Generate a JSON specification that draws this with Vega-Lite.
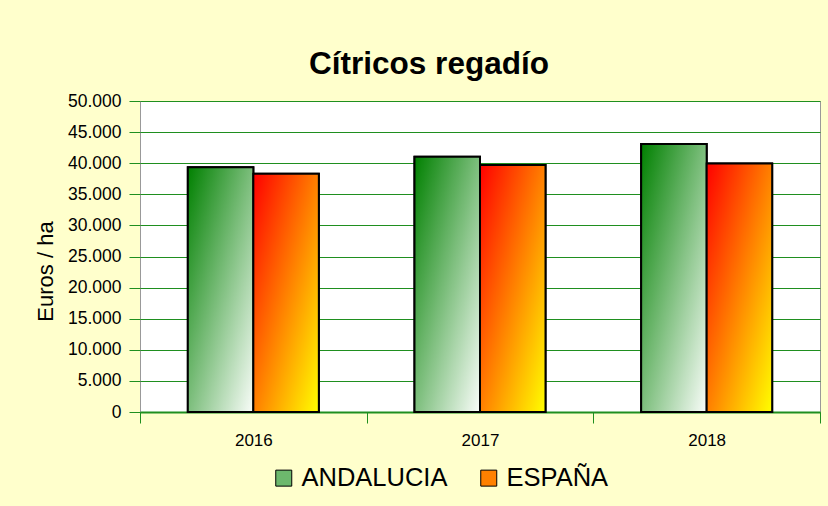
{
  "$schema": "https://vega.github.io/schema/vega-lite/v6.json",
  "width": 680,
  "height": 311,
  "autosize": {"type": "none"},
  "padding": {"left": 140, "top": 101, "right": 8, "bottom": 94},
  "background": "#FFFFCC",
  "title": {
    "text": "Cítricos regadío",
    "font": "Liberation Sans",
    "fontSize": 31.5,
    "fontWeight": "bold",
    "color": "#000000",
    "anchor": "middle",
    "frame": "group",
    "dx": -51,
    "baseline": "alphabetic",
    "offset": -13
  },
  "data": {
    "values": [
      {"year": "2016", "region": "ANDALUCIA", "value": 39350},
      {"year": "2016", "region": "ESPAÑA", "value": 38300},
      {"year": "2017", "region": "ANDALUCIA", "value": 41050},
      {"year": "2017", "region": "ESPAÑA", "value": 39700},
      {"year": "2018", "region": "ANDALUCIA", "value": 43100},
      {"year": "2018", "region": "ESPAÑA", "value": 39950}
    ]
  },
  "encoding": {
    "x": {
      "field": "year",
      "type": "nominal",
      "scale": {"paddingInner": 0, "paddingOuter": 0},
      "axis": {
        "title": null,
        "labelAngle": 0,
        "labelFont": "Liberation Sans",
        "labelFontSize": 17,
        "labelColor": "#000000",
        "labelPadding": 9,
        "tickBand": "extent",
        "tickSize": 11,
        "tickColor": "#1f8f1f",
        "tickWidth": 1,
        "domainColor": "#1f8f1f",
        "domainWidth": 2,
        "grid": false
      }
    },
    "xOffset": {"field": "region", "type": "nominal", "scale": {"paddingInner": 0, "paddingOuter": 0.73}},
    "y": {
      "field": "value",
      "type": "quantitative",
      "scale": {"domain": [0, 50000], "nice": false},
      "axis": {
        "title": "Euros / ha",
        "titleFont": "Liberation Sans",
        "titleFontSize": 22,
        "titleFontWeight": "normal",
        "titleColor": "#000000",
        "titleX": -95,
        "titleY": 170,
        "titleAlign": "center",
        "titleBaseline": "middle",
        "titleAngle": 270,
        "values": [0, 5000, 10000, 15000, 20000, 25000, 30000, 35000, 40000, 45000, 50000],
        "format": ",.0f",
        "labelFont": "Liberation Sans",
        "labelFontSize": 17.5,
        "labelColor": "#000000",
        "labelPadding": 8,
        "tickSize": 11,
        "tickColor": "#1f8f1f",
        "tickWidth": 1,
        "domain": false,
        "grid": true,
        "gridColor": "#1f8f1f",
        "gridWidth": 1,
        "gridOpacity": 1
      }
    }
  },
  "layer": [
    {
      "mark": {"type": "bar", "stroke": "#000000", "strokeWidth": 2, "fillOpacity": 1},
      "encoding": {
        "fill": {
          "field": "region",
          "type": "nominal",
          "scale": {"domain": ["ANDALUCIA", "ESPAÑA"], "range": ["#6DB86D", "#FF8000"]},
          "legend": {
            "title": null,
            "orient": "none",
            "legendX": 131,
            "legendY": 364,
            "direction": "horizontal",
            "symbolType": "square",
            "symbolSize": 256,
            "symbolStrokeColor": "#000000",
            "symbolStrokeWidth": 1,
            "symbolOpacity": 1,
            "labelFont": "Liberation Sans",
            "labelFontSize": 25.5,
            "labelColor": "#000000",
            "labelOffset": 5,
            "columnPadding": 28,
            "labelLimit": 400
          }
        }
      }
    },
    {
      "mark": {"type": "bar", "stroke": "#000000", "strokeWidth": 2, "fillOpacity": 1},
      "encoding": {
        "fill": {
          "condition": {
            "test": "datum.region === 'ANDALUCIA'",
            "value": {"gradient": "linear", "x1": 0, "y1": 0, "x2": 1, "y2": 1,
              "stops": [{"offset": 0, "color": "#008000"}, {"offset": 1, "color": "#FAFDFA"}]}
          },
          "value": {"gradient": "linear", "x1": 0, "y1": 0, "x2": 1, "y2": 1,
            "stops": [{"offset": 0, "color": "#FF0000"}, {"offset": 1, "color": "#FFFF00"}]}
        }
      }
    }
  ],
  "config": {
    "locale": {"number": {"decimal": ",", "thousands": ".", "grouping": [3], "currency": ["", " €"]}},
    "view": {"fill": "#FFFFFF", "stroke": "#999999", "strokeWidth": 1}
  }
}
